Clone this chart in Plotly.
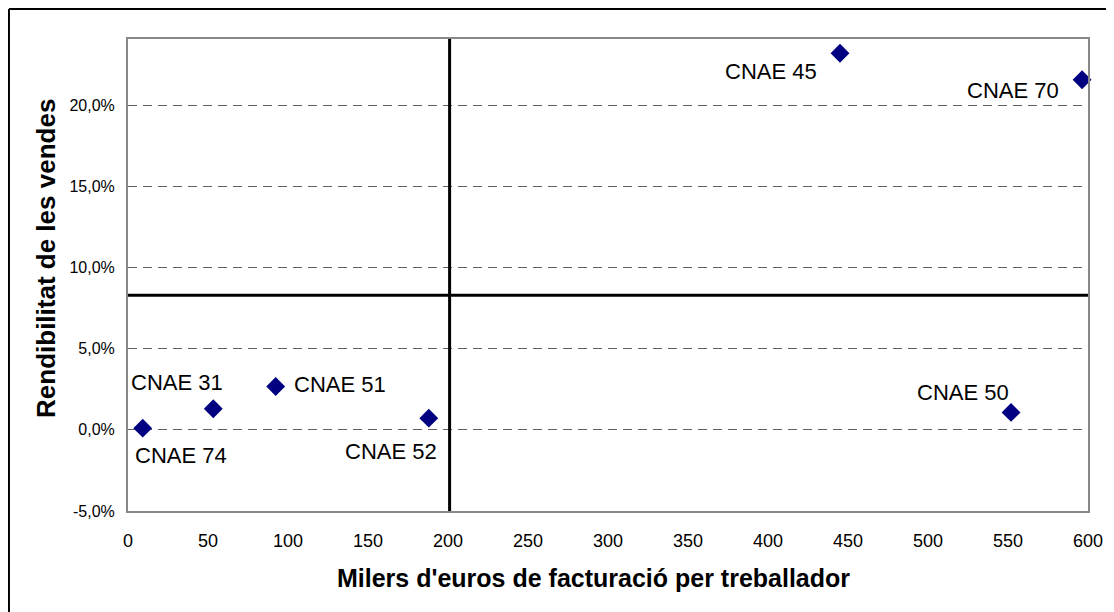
import plotly.graph_objects as go

# Data
labels = ["CNAE 74", "CNAE 31", "CNAE 51", "CNAE 52", "CNAE 50", "CNAE 45", "CNAE 70"]
facturacio = [9.2, 53.3, 92.3, 188.0, 551.9, 445.0, 596.3]
rendibilitat = [0.001, 0.013, 0.0267, 0.0072, 0.0107, 0.2319, 0.2156]
mitjana_x = 201.0
mitjana_y = 0.0829
y_range = [-0.05, 0.2407]
x_range = [0, 600]
x_ticks = list(range(0, 601, 50))
y_ticks = [-0.05, 0.0, 0.05, 0.10, 0.15, 0.20]
y_tick_labels = ["-5,0%", "0,0%", "5,0%", "10,0%", "15,0%", "20,0%"]

# label placement (xanchor, xshift, yshift) in pixels
label_pos = {
    "CNAE 74": ("center", 38, -27),
    "CNAE 31": ("center", -36, 26),
    "CNAE 51": ("left", 16, 2),
    "CNAE 52": ("right", 10, -33),
    "CNAE 50": ("right", 0, 20),
    "CNAE 45": ("right", -21, -18),
    "CNAE 70": ("right", -21, -11),
}

FONT = "Liberation Sans, Arial, sans-serif"

fig = go.Figure()

# mean lines
fig.add_trace(go.Scatter(x=[mitjana_x, mitjana_x], y=y_range, mode="lines",
                         line=dict(color="black", width=3), showlegend=False, hoverinfo="skip"))
fig.add_trace(go.Scatter(x=x_range, y=[mitjana_y, mitjana_y], mode="lines",
                         line=dict(color="black", width=3), showlegend=False, hoverinfo="skip"))

fig.add_trace(go.Scatter(
    x=facturacio, y=rendibilitat, mode="markers",
    marker=dict(symbol="diamond", size=14.5, color="#000080", line=dict(width=0)),
    showlegend=False, cliponaxis=False))

annotations = []
for lab, xv, yv in zip(labels, facturacio, rendibilitat):
    xa, xs, ys = label_pos[lab]
    annotations.append(dict(x=xv, y=yv, xref="x", yref="y", text=lab, showarrow=False,
                            xanchor=xa, yanchor="middle", xshift=xs, yshift=ys,
                            font=dict(family=FONT, size=22, color="black")))

annotations.append(dict(x=0.4844, y=-0.142, xref="paper", yref="paper",
                        text="<b>Milers d'euros de facturació per treballador</b>",
                        showarrow=False, xanchor="center", yanchor="middle",
                        font=dict(family=FONT, size=25, color="black")))
annotations.append(dict(x=-0.0854, y=0.534, xref="paper", yref="paper",
                        text="<b>Rendibilitat de les vendes</b>", textangle=-90,
                        showarrow=False, xanchor="center", yanchor="middle",
                        font=dict(family=FONT, size=26, color="black")))

border = dict(color="black", width=2)
fig.update_layout(
    width=1106, height=604,
    margin=dict(l=120, r=26, t=31, b=101, autoexpand=False),
    paper_bgcolor="white", plot_bgcolor="white",
    separators=",.",
    font=dict(family=FONT, color="black"),
    annotations=annotations,
    shapes=[
        dict(type="line", xref="paper", yref="paper", x0=-0.124, x1=-0.124,
             y0=-0.3, y1=1.0636, line=border, layer="below"),
        dict(type="line", xref="paper", yref="paper", x0=-0.124, x1=1.2,
             y0=1.0636, y1=1.0636, line=border, layer="below"),
    ],
)

fig.update_xaxes(range=x_range, tickvals=x_ticks, showgrid=False, zeroline=False,
                 showline=True, linecolor="#888888", linewidth=2, mirror=True,
                 ticks="", ticklabelstandoff=12, automargin=False,
                 tickfont=dict(family=FONT, size=18, color="black"))
fig.update_yaxes(range=y_range, tickvals=y_ticks, ticktext=y_tick_labels,
                 showgrid=True, gridcolor="#606060", gridwidth=1, griddash="9px,6px",
                 zeroline=False, showline=True, linecolor="#888888", linewidth=2, mirror=True,
                 ticks="", ticklabelstandoff=8, automargin=False,
                 tickfont=dict(family=FONT, size=16, color="black"))

fig.write_html("out.html")
